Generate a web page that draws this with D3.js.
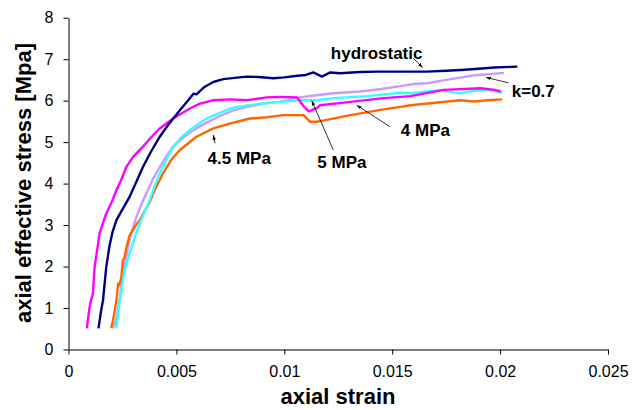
<!DOCTYPE html>
<html>
<head>
<meta charset="utf-8">
<script src="https://cdn.jsdelivr.net/npm/d3@7"></script>
<style>
  body { margin: 0; background: #fff; }
  svg text { font-family: "Liberation Sans", Arial, sans-serif; fill: #000; }
  .tick text { font-size: 16px; }
  .axis path, .axis line { stroke: #000; stroke-width: 1; }
  .title { font-size: 22px; font-weight: bold; }
  .note { font-size: 17px; font-weight: bold; }
</style>
</head>
<body>
<div id="container"></div>
<script>
// tick labels
const xTicks = [0, 0.005, 0.01, 0.015, 0.02, 0.025];
const yTicks = [0, 1, 2, 3, 4, 5, 6, 7, 8];

// series, strain / stress [MPa]
const hydroStrain = [0.00139, 0.0015, 0.0016, 0.00175, 0.0019, 0.00205, 0.00222, 0.0025, 0.00283, 0.00315, 0.00345, 0.0038, 0.00423, 0.0046, 0.0049, 0.00516, 0.0055, 0.0058, 0.00593, 0.0063, 0.00671, 0.00717, 0.0077, 0.00826, 0.0088, 0.0095, 0.0100, 0.0106, 0.0110, 0.01135, 0.01174, 0.01213, 0.01259, 0.0135, 0.0143, 0.0155, 0.01662, 0.0175, 0.01817, 0.0190, 0.01972, 0.0208];
const hydroStress = [0.51, 0.9, 1.19, 1.99, 2.5, 2.85, 3.12, 3.38, 3.68, 4.05, 4.4, 4.75, 5.13, 5.4, 5.6, 5.77, 5.98, 6.17, 6.15, 6.33, 6.45, 6.52, 6.55, 6.58, 6.57, 6.54, 6.56, 6.6, 6.62, 6.68, 6.58, 6.68, 6.66, 6.69, 6.70, 6.70, 6.70, 6.72, 6.74, 6.77, 6.80, 6.82];

const k07Strain = [0.00206, 0.0022, 0.0024, 0.00252, 0.0027, 0.00283, 0.003, 0.00315, 0.00338, 0.00361, 0.0039, 0.00423, 0.00455, 0.00485, 0.0053, 0.00578, 0.0064, 0.00702, 0.0076, 0.00826, 0.0090, 0.0098, 0.01042, 0.0115, 0.01228, 0.01352, 0.0145, 0.01538, 0.0160, 0.01662, 0.0175, 0.01894, 0.0195, 0.02018];
const k07Stress = [0.51, 0.7, 1.3, 1.83, 2.3, 2.64, 2.95, 3.2, 3.5, 3.76, 4.1, 4.4, 4.67, 4.89, 5.1, 5.29, 5.47, 5.63, 5.76, 5.85, 5.93, 5.97, 6.06, 6.13, 6.18, 6.22, 6.28, 6.35, 6.40, 6.42, 6.50, 6.62, 6.64, 6.67];

const mpa5Strain = [0.00222, 0.0023, 0.00245, 0.0026, 0.00283, 0.0031, 0.0033, 0.00376, 0.004, 0.00423, 0.00455, 0.00485, 0.0052, 0.00562, 0.0064, 0.00748, 0.0082, 0.00903, 0.0098, 0.0107, 0.0115, 0.01228, 0.01383, 0.01538, 0.01585, 0.01665, 0.01739, 0.0178, 0.01817, 0.0188, 0.01941, 0.0201];
const mpa5Stress = [0.51, 0.9, 1.43, 1.9, 2.32, 2.75, 3.04, 3.6, 3.95, 4.25, 4.6, 4.89, 5.1, 5.29, 5.57, 5.81, 5.88, 5.93, 5.97, 6.01, 6.01, 6.06, 6.11, 6.19, 6.18, 6.22, 6.26, 6.2, 6.18, 6.24, 6.26, 6.19];

const mpa4Strain = [0.00085, 0.00092, 0.001, 0.00113, 0.00121, 0.0013, 0.00144, 0.0016, 0.00175, 0.002, 0.00222, 0.00245, 0.00268, 0.003, 0.00345, 0.0038, 0.00423, 0.00485, 0.00562, 0.00609, 0.00671, 0.0075, 0.00826, 0.0092, 0.0098, 0.01058, 0.01089, 0.01113, 0.0115, 0.01166, 0.01306, 0.01461, 0.01585, 0.01739, 0.0191, 0.01975, 0.02003];
const mpa4Stress = [0.51, 0.8, 1.1, 1.35, 1.99, 2.3, 2.8, 3.05, 3.28, 3.55, 3.84, 4.1, 4.4, 4.65, 4.89, 5.1, 5.33, 5.57, 5.81, 5.93, 6.01, 6.03, 6.01, 6.08, 6.09, 6.08, 5.87, 5.74, 5.82, 5.89, 5.97, 6.06, 6.11, 6.26, 6.30, 6.26, 6.22];

const mpa45Strain = [0.00198, 0.0021, 0.00222, 0.0023, 0.00236, 0.00245, 0.00252, 0.0026, 0.0027, 0.00283, 0.0031, 0.0033, 0.00376, 0.004, 0.00438, 0.0048, 0.00516, 0.00593, 0.00671, 0.0075, 0.00841, 0.0092, 0.00996, 0.01089, 0.0112, 0.0115, 0.0118, 0.01306, 0.01461, 0.01538, 0.01585, 0.0170, 0.01817, 0.0188, 0.01941, 0.0201];
const mpa45Stress = [0.51, 0.8, 1.19, 1.59, 1.55, 1.75, 2.15, 2.23, 2.5, 2.75, 2.98, 3.12, 3.55, 3.85, 4.25, 4.6, 4.81, 5.13, 5.33, 5.45, 5.57, 5.6, 5.65, 5.65, 5.49, 5.49, 5.52, 5.65, 5.79, 5.85, 5.89, 5.95, 6.01, 5.98, 6.01, 6.03];

// label texts
const labelNames = ["hydrostatic", "k=0.7", "4 MPa", "5 MPa", "4.5 MPa"];

const width = 633, height = 410;
const margin = {top: 17.7, right: 25, bottom: 60.5, left: 68.5};

const svg = d3.select("#container").append("svg")
    .attr("width", width)
    .attr("height", height);

const x = d3.scaleLinear().domain([0, 0.025]).range([margin.left, width - margin.right]);
const y = d3.scaleLinear().domain([0, 8]).range([height - margin.bottom, margin.top]);

// axes
svg.append("g")
    .attr("class", "axis")
    .attr("transform", `translate(0,${y(0)})`)
    .call(d3.axisBottom(x).tickValues(xTicks).tickSize(5).tickSizeOuter(0).tickPadding(11)
        .tickFormat(d => String(+d.toFixed(3))));

svg.append("g")
    .attr("class", "axis")
    .attr("transform", `translate(${x(0)},0)`)
    .call(d3.axisLeft(y).tickValues(yTicks).tickSize(5).tickSizeOuter(0).tickPadding(10));

svg.selectAll(".tick text").attr("font-size", null).attr("font-family", null);

// series drawn back to front
const series = [
    [k07Strain, k07Stress, "#cc99ff"],
    [mpa45Strain, mpa45Stress, "#ff6600"],
    [mpa5Strain, mpa5Stress, "#33ffff"],
    [mpa4Strain, mpa4Stress, "#ff00ff"],
    [hydroStrain, hydroStress, "#000080"]
];

const line = d3.line()
    .x(d => x(d[0]))
    .y(d => y(d[1]));

series.forEach(function(s) {
    svg.append("path")
        .datum(d3.zip(s[0], s[1]))
        .attr("fill", "none")
        .attr("stroke", s[2])
        .attr("stroke-width", 2.4)
        .attr("stroke-linejoin", "round")
        .attr("d", line);
});

// axis titles
svg.append("text")
    .attr("class", "title")
    .attr("x", 338)
    .attr("y", 404)
    .attr("text-anchor", "middle")
    .text("axial strain");

svg.append("text")
    .attr("class", "title")
    .attr("transform", "translate(31,183) rotate(-90)")
    .attr("text-anchor", "middle")
    .text("axial effective stress [Mpa]");

// annotations: text position and arrow in data units
svg.append("defs").append("marker")
    .attr("id", "arrow")
    .attr("viewBox", "0 0 10 10")
    .attr("refX", 10).attr("refY", 5)
    .attr("markerWidth", 6).attr("markerHeight", 6)
    .attr("orient", "auto")
    .append("path")
    .attr("d", "M0,1.5L10,5L0,8.5Z")
    .attr("fill", "#000");

const notes = [
    {pos: [0.01428, 7.14], anchor: "middle", tail: [0.01598, 7.02], head: [0.01641, 6.80]},
    {pos: [0.02054, 6.23], anchor: "start", tail: [0.02038, 6.43], head: [0.01935, 6.56]},
    {pos: [0.01654, 5.29], anchor: "middle", tail: [0.0149, 5.37], head: [0.01336, 5.89]},
    {pos: [0.01267, 4.53], anchor: "middle", tail: [0.01227, 4.81], head: [0.01127, 6.00]},
    {pos: [0.00791, 4.61], anchor: "middle", tail: [0.00679, 4.97], head: [0.00671, 5.17]}
];

notes.forEach(function(n, i) {
    svg.append("line")
        .attr("x1", x(n.tail[0])).attr("y1", y(n.tail[1]))
        .attr("x2", x(n.head[0])).attr("y2", y(n.head[1]))
        .attr("stroke", "#000")
        .attr("stroke-width", 0.8)
        .attr("marker-end", "url(#arrow)");
    svg.append("text")
        .attr("class", "note")
        .attr("x", x(n.pos[0]))
        .attr("y", y(n.pos[1]))
        .attr("dy", "0.35em")
        .attr("text-anchor", n.anchor)
        .text(labelNames[i]);
});
</script>
</body>
</html>
